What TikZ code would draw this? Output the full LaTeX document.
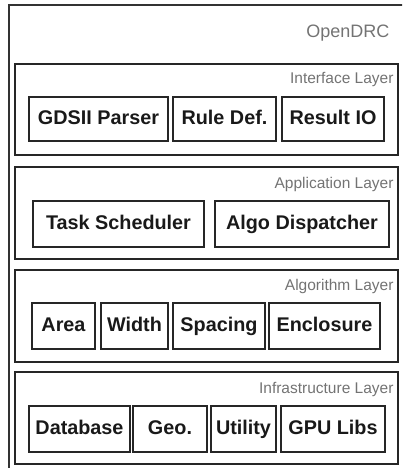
\documentclass[tikz,border=0pt]{standalone}
\usepackage{fontspec}
\setmainfont{Liberation Sans}
\begin{document}
\begin{tikzpicture}[x=1pt,y=-1pt,
  layerbox/.style={draw=black!85,line width=1.6pt},
  modbox/.style={draw=black!85,line width=1.1pt,font=\fontsize{19.8}{22}\selectfont\bfseries,text=black!90,
    text height=14.5pt,text depth=4pt},
  layertitle/.style={anchor=east,text=black!55,font=\fontsize{15.5}{18}\selectfont},
  frametitle/.style={anchor=east,text=black!55,font=\fontsize{18}{21}\selectfont}]
\useasboundingbox (0,0) rectangle (402,468);
\clip (0,0) rectangle (402,468);
% outer frame
\draw[draw=black!80,line width=2.4pt] (9,5) rectangle (406,470);
\node[frametitle] (title) at (393,33) {OpenDRC};
% layers
\draw[layerbox] (15,64) rectangle (398,155);
\node[layertitle] (l1) at (397,80) {Interface Layer};
\draw[layerbox] (15,167) rectangle (398,259);
\node[layertitle] (l2) at (397,184) {Application Layer};
\draw[layerbox] (15,270) rectangle (398,362);
\node[layertitle] (l3) at (397,286) {Algorithm Layer};
\draw[layerbox] (15,372) rectangle (398,464);
\node[layertitle] (l4) at (397,389) {Infrastructure Layer};
% modules: name, left, top, right, bottom
\foreach \n/\t/\a/\b/\c/\d in {
  gds/{GDSII Parser}/29/97/168/141,
  rule/{Rule Def.}/173/97/276/141,
  res/{Result IO}/282/97/384/141,
  task/{Task Scheduler}/33/201/204/247,
  algo/{Algo Dispatcher}/215/201/389/247,
  area/{Area}/32/303/95/349,
  width/{Width}/101/303/168/349,
  spac/{Spacing}/173/303/265/349,
  encl/{Enclosure}/269/303/380/349,
  db/{Database}/29/406/130/452,
  geo/{Geo.}/133/406/207/452,
  util/{Utility}/211/406/276/452,
  gpu/{GPU Libs}/281/406/385/452}
{
  \node[modbox,inner sep=0pt,minimum width={\c-\a},minimum height={\d-\b}] (\n) at ({(\a+\c)/2},{(\b+\d)/2}) {\t};
}
\end{tikzpicture}
\end{document}
